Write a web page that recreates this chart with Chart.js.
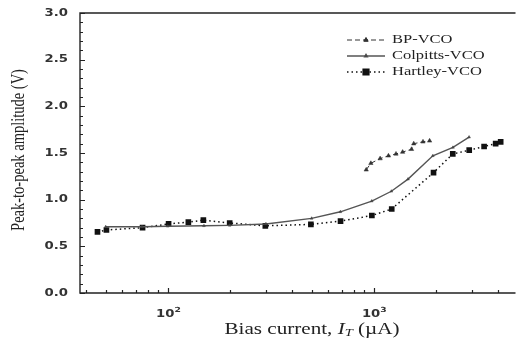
<!DOCTYPE html>
<html>
<head>
<meta charset="utf-8">
<script src="https://cdn.jsdelivr.net/npm/chart.js@4.4.1/dist/chart.umd.min.js"></script>
<style>
  html, body { margin: 0; padding: 0; background: #fff; overflow: hidden; }
  #wrap { width: 520px; height: 347px; }
</style>
</head>
<body>
<div id="wrap"><canvas id="chart" width="520" height="347"></canvas></div>
<script>
// Values: bias current (uA) vs peak-to-peak amplitude (V)
const bpCurrent = [921, 970, 1076, 1181, 1285, 1384, 1529, 1567, 1738, 1871];
const bpAmp = [1.32, 1.39, 1.44, 1.47, 1.49, 1.51, 1.54, 1.60, 1.62, 1.63];

const colpittsCurrent = [50, 75, 100, 150, 200, 300, 500, 690, 980, 1220, 1470, 1940, 2430, 2910];
const colpittsAmp = [0.71, 0.71, 0.715, 0.72, 0.725, 0.74, 0.80, 0.87, 0.985, 1.09, 1.22, 1.47, 1.56, 1.67];

const hartleyCurrent = [45.6, 50.4, 75.5, 101, 126, 149, 200, 298, 496, 691, 981, 1225, 1955, 2425, 2914, 3442, 3917, 4143];
const hartleyAmp = [0.655, 0.675, 0.70, 0.74, 0.76, 0.78, 0.75, 0.72, 0.735, 0.77, 0.83, 0.90, 1.29, 1.49, 1.53, 1.57, 1.60, 1.62];

// axis ticks
const xTicks = [40, 50, 60, 70, 80, 90, 100, 200, 300, 400, 500, 600, 700, 800, 900, 1000, 2000, 3000, 4000];
const xMajor = [100, 1000];
const xExp = ["2", "3"];
const yTicks = [0, 0.5, 1.0, 1.5, 2.0, 2.5, 3.0];
const yMinor = [0.1, 0.2, 0.3, 0.4, 0.6, 0.7, 0.8, 0.9, 1.1, 1.2, 1.3, 1.4, 1.6, 1.7, 1.8, 1.9,
                2.1, 2.2, 2.3, 2.4, 2.6, 2.7, 2.8, 2.9];

const toPoints = (xs, ys) => xs.map((x, i) => ({ x: x, y: ys[i] }));

const STRETCH = 1.32; // the source picture is wider than tall text would suggest

// draw text squeezed/stretched horizontally, anchored at x
function wideText(ctx, text, x, y, align) {
  const w = ctx.measureText(text).width * STRETCH;
  let left = x;
  if (align === "right") left = x - w;
  if (align === "center") left = x - w / 2;
  ctx.save();
  ctx.translate(left, y);
  ctx.scale(STRETCH, 1);
  ctx.textAlign = "left";
  ctx.fillText(text, 0, 0);
  ctx.restore();
  return w;
}

const frame = {
  id: "frame",
  afterDraw(chart) {
    const { ctx, chartArea: a, scales: { x, y } } = chart;
    ctx.save();

    // frame (no right edge, it is cut off in the source)
    ctx.strokeStyle = "#222";
    ctx.lineWidth = 1.4;
    ctx.beginPath();
    ctx.moveTo(a.right, a.top);
    ctx.lineTo(a.left, a.top);
    ctx.lineTo(a.left, a.bottom);
    ctx.lineTo(a.right, a.bottom);
    ctx.stroke();

    // inward ticks
    ctx.lineWidth = 1.2;
    ctx.beginPath();
    xTicks.forEach(v => {
      const px = Math.round(x.getPixelForValue(v)) + 0.5;
      const len = xMajor.includes(v) ? 5 : 3;
      ctx.moveTo(px, a.bottom);
      ctx.lineTo(px, a.bottom - len);
    });
    yTicks.forEach(v => {
      const py = Math.round(y.getPixelForValue(v)) + 0.5;
      ctx.moveTo(a.left, py);
      ctx.lineTo(a.left + 5, py);
    });
    yMinor.forEach(v => {
      const py = Math.round(y.getPixelForValue(v)) + 0.5;
      ctx.moveTo(a.left, py);
      ctx.lineTo(a.left + 3, py);
    });
    ctx.stroke();

    // tick labels
    ctx.fillStyle = "#333";
    ctx.textBaseline = "middle";
    ctx.font = "bold 10px 'DejaVu Sans'";
    yTicks.forEach(v => {
      wideText(ctx, v.toFixed(1), a.left - 12, y.getPixelForValue(v), "right");
    });
    xMajor.forEach((v, i) => {
      const px = x.getPixelForValue(v);
      ctx.font = "bold 10px 'DejaVu Sans'";
      const w = ctx.measureText("10").width * STRETCH;
      const left = px - (w + 5) / 2;
      wideText(ctx, "10", left, a.bottom + 21, "left");
      ctx.font = "bold 7px 'DejaVu Sans'";
      wideText(ctx, xExp[i], left + w, a.bottom + 17, "left");
    });

    // y title
    ctx.fillStyle = "#222";
    ctx.font = "14.5px 'Liberation Serif'";
    ctx.save();
    ctx.translate(19, (a.top + a.bottom) / 2 - 3);
    ctx.rotate(-Math.PI / 2);
    ctx.textAlign = "center";
    ctx.scale(1, STRETCH);
    ctx.fillText("Peak-to-peak amplitude (V)", 0, 0);
    ctx.restore();

    // x title with italic I and subscript T
    const parts = [
      { t: "Bias current, ", f: "16px 'Liberation Serif'", dy: 0 },
      { t: "I", f: "italic 16px 'Liberation Serif'", dy: 0 },
      { t: "T", f: "italic 11px 'Liberation Serif'", dy: 3 },
      { t: " (µA)", f: "16px 'Liberation Serif'", dy: 0 }
    ];
    let total = 0;
    parts.forEach(p => { ctx.font = p.f; total += ctx.measureText(p.t).width * STRETCH; });
    let cx = 312 - total / 2;
    parts.forEach(p => {
      ctx.font = p.f;
      cx += wideText(ctx, p.t, cx, 330 + p.dy, "left");
    });

    // legend
    ctx.font = "12.5px 'Liberation Serif'";
    chart.data.datasets.forEach((ds, i) => {
      const ly = 40 + i * 16;
      ctx.strokeStyle = ds.borderColor;
      ctx.lineWidth = ds.borderWidth;
      ctx.setLineDash(ds.borderDash || []);
      ctx.beginPath();
      ctx.moveTo(347, ly);
      ctx.lineTo(385, ly);
      ctx.stroke();
      ctx.setLineDash([]);
      Chart.helpers.drawPoint(ctx, {
        pointStyle: ds.pointStyle, radius: ds.pointRadius, borderWidth: 1, rotation: 0
      }, 366, ly);
      ctx.fillStyle = ds.pointBackgroundColor;
      ctx.fill();
      ctx.fillStyle = "#222";
      wideText(ctx, ds.label, 392, ly, "left");
    });

    ctx.restore();
  }
};

new Chart(document.getElementById("chart"), {
  type: "line",
  data: {
    datasets: [
      {
        label: "BP-VCO",
        data: toPoints(bpCurrent, bpAmp),
        borderColor: "#333",
        borderWidth: 1,
        borderDash: [5, 3],
        pointStyle: "triangle",
        pointRadius: 2.5,
        pointBackgroundColor: "#333",
        pointBorderColor: "#333",
        pointBorderWidth: 0.5
      },
      {
        label: "Colpitts-VCO",
        data: toPoints(colpittsCurrent, colpittsAmp),
        borderColor: "#555",
        borderWidth: 1.4,
        pointStyle: "triangle",
        pointRadius: 1.6,
        pointBackgroundColor: "#444",
        pointBorderColor: "#444",
        pointBorderWidth: 0.5
      },
      {
        label: "Hartley-VCO",
        data: toPoints(hartleyCurrent, hartleyAmp),
        borderColor: "#111",
        borderWidth: 1.5,
        borderDash: [1.5, 3],
        pointStyle: "rect",
        pointRadius: 4,
        pointBackgroundColor: "#111",
        pointBorderColor: "#111",
        pointBorderWidth: 0
      }
    ]
  },
  options: {
    responsive: false,
    animation: false,
    devicePixelRatio: 1,
    parsing: true,
    layout: { padding: { top: 13, right: 0, bottom: 0, left: 0 } },
    plugins: {
      legend: { display: false },
      tooltip: { enabled: false }
    },
    scales: {
      x: {
        type: "logarithmic",
        min: 37.5,
        max: 4890,
        grid: { display: false },
        border: { display: false },
        ticks: { display: false },
        afterFit(scale) { scale.height = 54; }
      },
      y: {
        type: "linear",
        min: 0,
        max: 3,
        grid: { display: false },
        border: { display: false },
        ticks: { display: false },
        afterFit(scale) { scale.width = 80; }
      }
    }
  },
  plugins: [frame]
});
</script>
</body>
</html>
